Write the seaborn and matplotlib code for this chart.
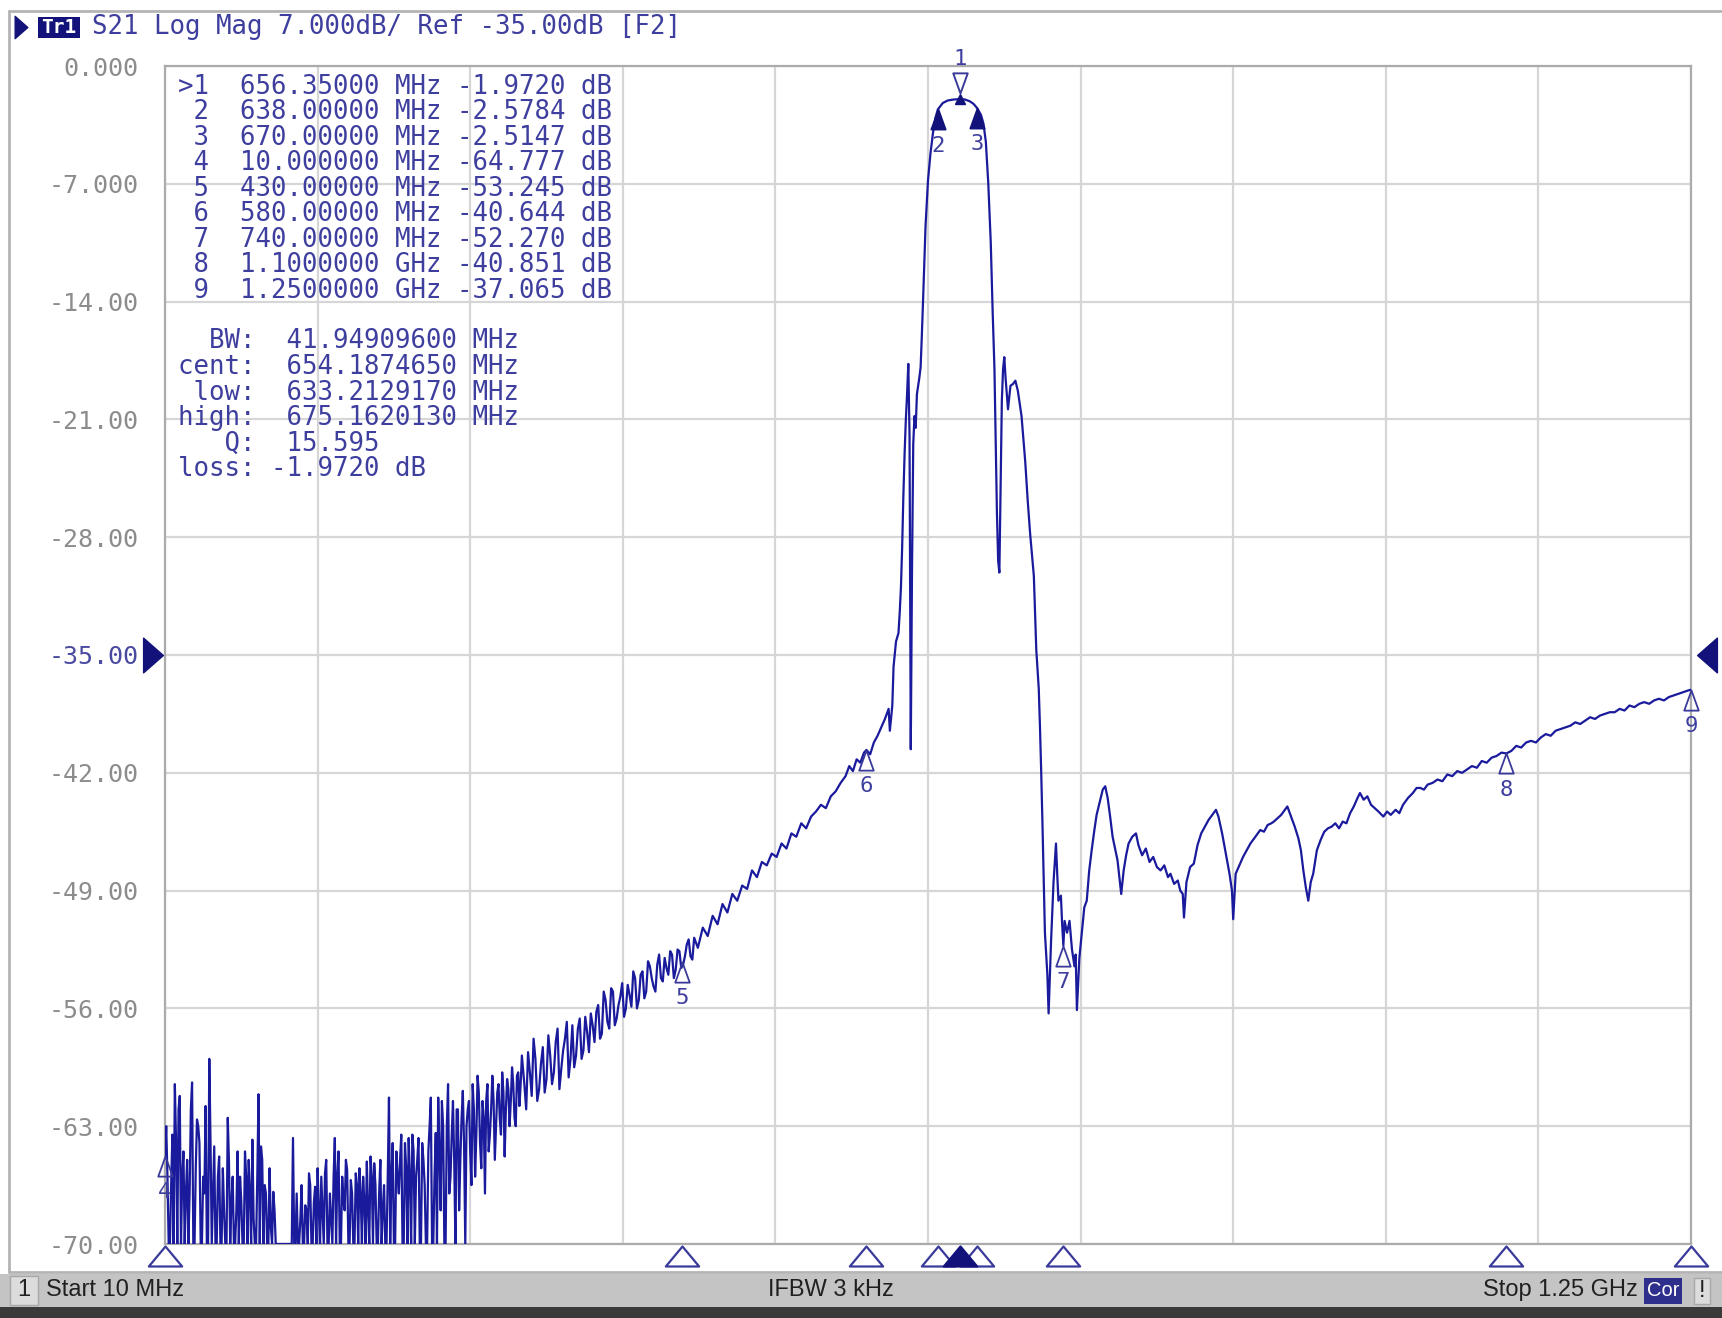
import numpy as np
import pandas as pd
import matplotlib
matplotlib.use("Agg")
import matplotlib.pyplot as plt
import seaborn as sns
from matplotlib.path import Path
from matplotlib.patches import Rectangle
from matplotlib.lines import Line2D
from matplotlib.transforms import blended_transform_factory
from matplotlib import font_manager

# ---------------- data ----------------
# low band 10..300 MHz (noise floor, clipped at -70 dB), even MHz points
low_freq = [10, 12, 14, 16, 18, 20, 22, 24, 26, 28,
            30, 32, 34, 36, 38, 40, 42, 44, 46, 48,
            50, 52, 54, 56, 58, 60, 62, 64, 66, 68,
            70, 72, 74, 76, 78, 80, 82, 84, 86, 88,
            90, 92, 94, 96, 98, 100, 102, 104, 106, 108,
            110, 112, 114, 116, 118, 120, 122, 124, 126, 128,
            130, 132, 134, 136, 138, 140, 142, 144, 146, 148,
            150, 152, 154, 156, 158, 160, 162, 164, 166, 168,
            170, 172, 174, 176, 178, 180, 182, 184, 186, 188,
            190, 192, 194, 196, 198, 200, 202, 204, 206, 208,
            210, 212, 214, 216, 218, 220, 222, 224, 226, 228,
            230, 232, 234, 236, 238, 240, 242, 244, 246, 248,
            250, 252, 254, 256, 258, 260, 262, 264, 266, 268,
            270, 272, 274, 276, 278, 280, 282, 284, 286, 288,
            290, 292, 294, 296, 298, 300]
low_db = [-64.8, -66, -70, -63.5, -60.5, -70, -61.2, -66, -70, -65,
          -67, -60.4, -70, -62.6, -64, -70, -67, -70, -59.0, -70,
          -64.2, -70, -64.8, -70, -68, -70, -65.2, -67.5, -70, -68,
          -70, -67.5, -70, -66, -65.0, -70, -68.5, -70, -61.1, -64.2,
          -70, -67, -70, -69, -66.9, -70, -70, -70, -70, -70,
          -70, -70, -63.7, -70, -70, -68.5, -70, -67.7, -70, -66.5,
          -70, -66.6, -65.5, -70, -68, -65.8, -70, -67, -70, -63.7,
          -66, -70, -66, -68, -65.6, -70, -67, -70, -66.5, -65.5,
          -70, -67.5, -65.1, -70, -66, -65.2, -70, -67, -70, -66.5,
          -70, -61.3, -66, -70, -64.5, -67, -63.5, -70, -65.5, -63.7,
          -70, -64.5, -66, -63.7, -70, -65, -70, -64.5, -61.3, -70,
          -63.4, -61.3, -68, -63.0, -70, -60.5, -66, -61.5, -70, -62,
          -65, -60.9, -70, -62, -64.5, -60.5, -66, -60.0, -64, -61.5,
          -67, -60.5, -63.5, -60.0, -65, -61.0, -62.5, -59.8, -64.8, -60.2,
          -63, -59.5, -62.5, -60.0, -61.8, -58.8]

# low band, odd MHz points
low_freq_odd = [11, 13, 15, 17, 19, 21, 23, 25, 27, 29,
                31, 33, 35, 37, 39, 41, 43, 45, 47, 49,
                51, 53, 55, 57, 59, 61, 63, 65, 67, 69,
                71, 73, 75, 77, 79, 81, 83, 85, 87, 89,
                91, 93, 95, 97, 99, 101, 103, 105, 107, 109,
                111, 113, 115, 117, 119, 121, 123, 125, 127, 129,
                131, 133, 135, 137, 139, 141, 143, 145, 147, 149,
                151, 153, 155, 157, 159, 161, 163, 165, 167, 169,
                171, 173, 175, 177, 179, 181, 183, 185, 187, 189,
                191, 193, 195, 197, 199, 201, 203, 205, 207, 209,
                211, 213, 215, 217, 219, 221, 223, 225, 227, 229,
                231, 233, 235, 237, 239, 241, 243, 245, 247, 249,
                251, 253, 255, 257, 259, 261, 263, 265, 267, 269,
                271, 273, 275, 277, 279, 281, 283, 285, 287, 289,
                291, 293, 295, 297, 299]
low_db_odd = [-63.0, -70, -66.5, -70, -64.0, -62.0, -70, -64.5, -67.0, -70,
              -62.0, -70, -65.5, -63.0, -70, -66.0, -61.8, -70, -64.0, -67.0,
              -70, -66.0, -70, -65.5, -70, -62.5, -70, -66.0, -70, -64.5,
              -66.0, -70, -64.5, -70, -67.0, -63.8, -70, -66.0, -70, -65.0,
              -66.5, -70, -65.5, -70, -68.0, -70, -70, -70, -70, -70,
              -70, -70, -70, -67.0, -70, -66.5, -70, -68.0, -65.8, -70,
              -67.5, -70, -68.0, -66.0, -70, -65.0, -70, -68.5, -66.0, -70,
              -64.5, -70, -67.5, -65.0, -70, -66.2, -70, -65.8, -70, -67.0,
              -66.0, -70, -68.0, -64.8, -70, -66.5, -70, -65.0, -68.0, -70,
              -66.0, -70, -64.0, -70, -66.0, -65.0, -70, -64.0, -70, -66.0,
              -63.5, -70, -65.0, -70, -64.0, -66.5, -70, -63.0, -70, -66.0,
              -70, -64.5, -61.5, -70, -63.0, -67.0, -63.5, -65.0, -62.0, -68.0,
              -62.5, -64.0, -63.0, -61.5, -66.5, -62.0, -63.5, -61.0, -65.5, -62.5,
              -61.5, -64.5, -62.0, -61.5, -63.0, -60.5, -63.5, -61.0, -62.0, -60.8,
              -61.5, -60.5, -63.0, -59.8, -60.5]

# rising lower stopband 302..440 MHz
rise_freq = [302, 305, 308, 311, 314, 317, 320, 323, 326, 329,
             332, 335, 338, 341, 344, 347, 350, 353, 356, 359,
             362, 365, 368, 371, 374, 377, 380, 383, 386, 389,
             392, 395, 398, 401, 404, 407, 410, 413, 416, 419,
             422, 425, 428, 431, 434, 437, 440]
rise_db = [-60.5, -58.6, -61.2, -59.0, -60.8, -58.3, -60.2, -58.8, -59.8, -57.2,
           -59.6, -57.8, -60.1, -57.0, -58.8, -56.6, -58.5, -57.4, -56.3, -58.0,
           -55.8, -57.5, -55.5, -57.2, -55.0, -56.6, -55.3, -56.5, -54.6, -55.9,
           -54.2, -55.5, -53.8, -55.0, -53.5, -54.7, -53.4, -54.2, -53.0, -54.0,
           -52.8, -53.7, -52.6, -53.4, -52.2, -52.9, -51.8]
rise_freq_mid = [303.5, 306.5, 309.5, 312.5, 315.5, 318.5, 321.5, 324.5, 327.5, 330.5,
                 333.5, 336.5, 339.5, 342.5, 345.5, 348.5, 351.5, 354.5, 357.5, 360.5,
                 363.5, 366.5, 369.5, 372.5, 375.5, 378.5, 381.5, 384.5, 387.5, 390.5,
                 393.5, 396.5, 399.5, 402.5, 405.5, 408.5, 411.5, 414.5, 417.5, 420.5,
                 423.5, 426.5, 429.5, 432.5, 435.5, 438.5]
rise_db_mid = [-62.0, -59.8, -57.8, -61.5, -59.3, -61.0, -57.6, -60.5, -58.0, -60.8,
               -58.5, -56.8, -59.0, -59.5, -57.2, -59.0, -56.5, -58.6, -57.0, -56.2,
               -57.8, -55.0, -56.8, -54.8, -57.0, -55.8, -54.5, -56.0, -55.2, -53.8,
               -56.0, -54.0, -55.4, -53.2, -54.2, -55.0, -52.8, -54.4, -53.6, -52.6,
               -54.2, -52.5, -53.6, -52.9, -51.9, -53.1]

# approach to the passband 443..601 MHz
slope_freq = [443, 447, 451, 455, 459, 463, 467, 471, 475, 479,
              483, 487, 491, 495, 499, 503, 507, 511, 515, 519,
              523, 527, 531, 535, 539, 543, 547, 551, 555, 559,
              563, 566, 569, 572, 575, 578, 580, 583, 586, 589,
              592, 595, 598, 599, 601]
slope_db = [-52.4, -51.2, -51.7, -50.5, -51.0, -49.8, -50.3, -49.2, -49.6, -48.7,
            -48.9, -47.8, -48.2, -47.3, -47.5, -46.8, -47.0, -46.2, -46.5, -45.6,
            -45.8, -45.0, -45.3, -44.6, -44.3, -43.9, -44.1, -43.4, -43.1, -42.6,
            -42.2, -41.6, -41.9, -41.2, -41.4, -40.8, -40.64, -40.9, -40.2, -39.8,
            -39.3, -38.8, -38.2, -39.5, -38.0]

# lower skirt 602..626 MHz
lskirt_freq = [602, 604, 606, 607, 608, 609, 610, 611, 612, 613, 614, 615,
               616, 617, 618, 619, 620, 621, 622, 623, 624, 625, 626]
lskirt_db = [-35.7, -34.2, -33.7, -32.5, -31.0, -28.6, -25.5, -23.0, -21.0, -19.5, -17.7, -22.0,
             -40.6, -30.0, -22.5, -20.8, -21.5, -19.5, -19.0, -18.5, -17.9, -16.0, -13.9]

# passband 628..681 MHz
pass_freq = [628, 630, 632, 634, 636, 638, 642, 646, 650, 653,
             656.35, 660, 664, 667, 670, 673, 675, 677, 679, 681]
pass_db = [-9.5, -6.8, -5.2, -4.0, -3.1, -2.58, -2.2, -2.05, -2.0, -1.98,
           -1.972, -1.99, -2.1, -2.25, -2.51, -2.9, -3.4, -4.5, -7.0, -10.5]

# upper skirt and upper stopband 682.5..1027 MHz
upper_freq = [682.5, 684, 685, 686, 687, 688, 689, 690, 691, 692,
              693, 695, 697, 699, 701, 703, 706, 709, 711, 713,
              716, 718, 720, 721, 722, 723, 725, 727, 728, 730,
              732, 734, 735, 736, 738, 739, 740, 741, 743, 745,
              747, 749, 750, 751, 753, 755, 757, 759, 761, 763,
              765, 767, 770, 772, 774, 776, 778, 780, 782, 784,
              786, 787, 789, 791, 793, 796, 799, 801, 804, 807,
              810, 813, 816, 819, 822, 825, 827, 830, 833, 835,
              837, 838, 840, 843, 846, 849, 852, 855, 858, 861,
              864, 866, 869, 872, 875, 877, 878, 880, 883, 886,
              889, 892, 895, 898, 900, 903, 906, 909, 911, 914,
              917, 920, 922, 925, 928, 931, 933, 935, 937, 939,
              941, 943, 946, 949, 952, 955, 958, 961, 964, 967,
              970, 973, 976, 979, 981, 984, 987, 990, 993, 996,
              1000, 1003, 1006, 1010, 1013, 1016, 1020, 1024, 1027]
upper_db = [-14.5, -18.0, -22.2, -26.5, -29.4, -30.1, -25.0, -19.9, -18.0, -17.3,
            -18.5, -20.4, -19.0, -18.9, -18.7, -19.3, -20.8, -23.5, -25.8, -27.8,
            -30.3, -34.7, -37.0, -39.3, -42.0, -45.0, -51.5, -54.0, -56.3, -52.0,
            -48.5, -46.2, -48.0, -49.6, -49.3, -51.0, -52.27, -50.8, -51.5, -50.8,
            -52.5, -53.5, -52.8, -56.1, -53.0, -51.5, -50.0, -49.6, -47.8, -46.6,
            -45.5, -44.5, -43.6, -43.0, -42.8, -43.5, -44.6, -45.8, -46.5, -47.2,
            -48.5, -49.2, -47.8, -46.9, -46.2, -45.8, -45.6, -46.3, -46.9, -46.5,
            -47.3, -47.0, -47.6, -47.8, -47.5, -48.2, -48.0, -48.6, -48.4, -49.0,
            -49.2, -50.6, -48.5, -47.6, -47.4, -46.3, -45.6, -45.2, -44.8, -44.5,
            -44.2, -44.6, -45.6, -46.8, -48.0, -49.0, -50.7, -48.0, -47.5, -47.0,
            -46.6, -46.2, -45.9, -45.6, -45.4, -45.5, -45.1, -45.0, -44.9, -44.7,
            -44.5, -44.2, -44.0, -44.6, -45.2, -45.9, -46.6, -47.8, -48.8, -49.6,
            -48.5, -48.0, -46.6, -46.0, -45.5, -45.3, -45.2, -45.0, -45.3, -44.9,
            -45.0, -44.4, -44.0, -43.5, -43.2, -43.6, -43.4, -43.9, -44.1, -44.3,
            -44.6, -44.3, -44.5, -44.2, -44.4, -43.9, -43.5, -43.2, -42.9]

# high end 1030..1250 MHz
high_freq = [1030, 1033, 1036, 1040, 1044, 1048, 1052, 1056, 1060, 1064,
             1068, 1072, 1076, 1080, 1084, 1088, 1092, 1096, 1100, 1104,
             1108, 1112, 1116, 1120, 1124, 1128, 1132, 1136, 1140, 1144,
             1148, 1152, 1156, 1160, 1164, 1168, 1172, 1176, 1180, 1184,
             1188, 1192, 1196, 1200, 1204, 1208, 1212, 1216, 1220, 1224,
             1228, 1232, 1236, 1240, 1244, 1248, 1250]
high_db = [-42.9, -43.0, -42.7, -42.6, -42.4, -42.5, -42.1, -42.2, -41.9, -42.0,
           -41.8, -41.6, -41.7, -41.3, -41.4, -41.1, -41.0, -40.8, -40.85, -40.7,
           -40.4, -40.5, -40.2, -40.1, -40.2, -39.9, -39.7, -39.8, -39.5, -39.4,
           -39.3, -39.2, -39.0, -39.1, -38.9, -38.7, -38.8, -38.6, -38.5, -38.4,
           -38.4, -38.2, -38.3, -38.0, -38.1, -37.9, -37.8, -37.9, -37.7, -37.6,
           -37.7, -37.5, -37.4, -37.3, -37.2, -37.1, -37.065]

# markers (from the marker table)
marker_ids = ["1", "2", "3", "4", "5", "6", "7", "8", "9"]
marker_freq = [656.35, 638.0, 670.0, 10.0, 430.0, 580.0, 740.0, 1100.0, 1250.0]
marker_db = [-1.972, -2.5784, -2.5147, -64.777, -53.245, -40.644, -52.270, -40.851, -37.065]

table_rows = [">1  656.35000 MHz -1.9720 dB",
              " 2  638.00000 MHz -2.5784 dB",
              " 3  670.00000 MHz -2.5147 dB",
              " 4  10.000000 MHz -64.777 dB",
              " 5  430.00000 MHz -53.245 dB",
              " 6  580.00000 MHz -40.644 dB",
              " 7  740.00000 MHz -52.270 dB",
              " 8  1.1000000 GHz -40.851 dB",
              " 9  1.2500000 GHz -37.065 dB"]
bw_rows = ["  BW:  41.94909600 MHz",
           "cent:  654.1874650 MHz",
           " low:  633.2129170 MHz",
           "high:  675.1620130 MHz",
           "   Q:  15.595",
           "loss: -1.9720 dB"]

y_ticks = [0, -7, -14, -21, -28, -35, -42, -49, -56, -63, -70]
y_labels = ["0.000", "-7.000", "-14.00", "-21.00", "-28.00", "-35.00",
            "-42.00", "-49.00", "-56.00", "-63.00", "-70.00"]
start_mhz, stop_mhz, ref_db = 10, 1250, -35

# ---------------- styling ----------------
sns.set_style("white")
avail = {f.name for f in font_manager.fontManager.ttflist}
MONO = "DejaVu Sans Mono"
NARROW = "Liberation Sans Narrow" if "Liberation Sans Narrow" in avail else "Liberation Sans"
plt.rcParams["font.family"] = ["DejaVu Sans"]

TRACE = "#1a1a9c"
TXT = "#3e3e9e"
NAVY = "#12127a"
GRID = "#d6d6d6"

W, H = 1722, 1318
fig = plt.figure(figsize=(W / 100, H / 100), dpi=100)
fig.patch.set_facecolor("white")

def fx(px):
    return px / W

def fy(py):
    return 1 - py / H

AX_L, AX_R, AX_T, AX_B = 165, 1691, 66, 1244
ax = fig.add_axes([fx(AX_L), fy(AX_B), (AX_R - AX_L) / W, (AX_B - AX_T) / H])
ax.set_facecolor("white")

freq_all = (low_freq + low_freq_odd + rise_freq + rise_freq_mid + slope_freq
            + lskirt_freq + pass_freq + upper_freq + high_freq)
db_all = (low_db + low_db_odd + rise_db + rise_db_mid + slope_db
          + lskirt_db + pass_db + upper_db + high_db)
df = pd.DataFrame({"freq": freq_all, "db": db_all})

sns.lineplot(data=df, x="freq", y="db", ax=ax, sort=True, estimator=None,
             color=TRACE, lw=1.6, zorder=3)

ax.set_xlim(start_mhz, stop_mhz)
ax.set_ylim(-70, 0)
span = stop_mhz - start_mhz
ax.set_xticks([start_mhz + span * k / 10 for k in range(11)])
ax.set_yticks(y_ticks)
ax.set_yticklabels(y_labels, family=MONO, fontsize=18, color="#8c8c8c")
for lab in ax.get_yticklabels():
    if lab.get_text() == "-35.00":
        lab.set_color("#4a4aa0")
ax.tick_params(axis="both", length=0, pad=19, labelbottom=False)
ax.set_xlabel("")
ax.set_ylabel("")
ax.grid(True, color=GRID, lw=1.6)
for s in ax.spines.values():
    s.set_color("#ababab")
    s.set_linewidth(1.6)

# reference-level arrows
tri_r = Path([(-0.57, 1), (0.57, 0), (-0.57, -1), (-0.57, 1)],
             [Path.MOVETO, Path.LINETO, Path.LINETO, Path.CLOSEPOLY])
tri_l = Path([(0.57, 1), (-0.57, 0), (0.57, -1), (0.57, 1)],
             [Path.MOVETO, Path.LINETO, Path.LINETO, Path.CLOSEPOLY])
tr_ax_y = blended_transform_factory(ax.transAxes, ax.transData)
ax.plot([-12 / (AX_R - AX_L)], [ref_db], marker=tri_r, ms=25, color=NAVY,
        transform=tr_ax_y, clip_on=False, zorder=6)
ax.plot([1 + 16 / (AX_R - AX_L)], [ref_db], marker=tri_l, ms=25, color=NAVY,
        transform=tr_ax_y, clip_on=False, zorder=6)

# bottom stimulus triangles
flat_up = Path([(-1, -0.6), (1, -0.6), (0, 0.6), (-1, -0.6)],
               [Path.MOVETO, Path.LINETO, Path.LINETO, Path.CLOSEPOLY])
tr_x_ax = blended_transform_factory(ax.transData, ax.transAxes)
yb = -12 / (AX_B - AX_T)
for i, f in enumerate(marker_freq):
    if i == 0:
        continue
    ax.plot([f], [yb], marker=flat_up, ms=24, mfc="white", mec="#3a3a9a", mew=1.6,
            ls="none", transform=tr_x_ax, clip_on=False, zorder=6)
ax.plot([marker_freq[0]], [yb], marker=flat_up, ms=24, mfc=NAVY, mec=NAVY, mew=1.6,
        ls="none", transform=tr_x_ax, clip_on=False, zorder=7)

# on-trace marker symbols
apex_up = Path([(0, 0), (-0.36, -1), (0.36, -1), (0, 0)],
               [Path.MOVETO, Path.LINETO, Path.LINETO, Path.CLOSEPOLY])
apex_down = Path([(0, 0), (-0.36, 1), (0.36, 1), (0, 0)],
                 [Path.MOVETO, Path.LINETO, Path.LINETO, Path.CLOSEPOLY])
for mid, f, d in zip(marker_ids, marker_freq, marker_db):
    if mid == "1":
        ax.plot([f], [d], marker="^", ms=7, color=NAVY, ls="none", clip_on=False, zorder=7)
        ax.plot([f], [d + 0.35], marker=apex_down, ms=29, mfc="white", mec="#3a3a9a",
                mew=1.4, ls="none", clip_on=False, zorder=7)
        ax.annotate(mid, (f, d), xytext=(0, 29), textcoords="offset points",
                    ha="center", va="center", family=MONO, fontsize=16, color=TXT,
                    annotation_clip=False)
    elif mid in ("2", "3"):
        ax.plot([f], [d], marker=apex_up, ms=29, mfc=NAVY, mec=NAVY, mew=1.2,
                ls="none", clip_on=False, zorder=7)
        ax.annotate(mid, (f, d), xytext=(0, -26), textcoords="offset points",
                    ha="center", va="center", family=MONO, fontsize=16, color=TXT,
                    annotation_clip=False)
    else:
        ax.plot([f], [d], marker=apex_up, ms=29, mfc="none", mec="#3a3a9a", mew=1.3,
                ls="none", clip_on=False, zorder=7)
        ax.annotate(mid, (f, d), xytext=(0, -26), textcoords="offset points",
                    ha="center", va="center", family=MONO, fontsize=16, color=TXT,
                    annotation_clip=False)

# marker table text
for i, row in enumerate(table_rows):
    fig.text(fx(178), fy(86.7 + 25.5 * i), row, ha="left", va="center",
             family=MONO, fontsize=18.5, color=TXT, zorder=8)
for i, row in enumerate(bw_rows):
    fig.text(fx(178), fy(341.5 + 25.5 * i), row, ha="left", va="center",
             family=MONO, fontsize=18.5, color=TXT, zorder=8)

# header and frame
fig.add_artist(Line2D([fx(9), fx(W)], [fy(11), fy(11)], color="#b4b4b4", lw=2))
fig.add_artist(Line2D([fx(9), fx(9)], [fy(11), fy(1272)], color="#b4b4b4", lw=2))
fig.add_artist(Line2D([fx(9), fx(W)], [fy(1272), fy(1272)], color="#b4b4b4", lw=2))
fig.add_artist(Line2D([fx(21)], [fy(27)], marker=tri_r, ms=16, color=NAVY, ls="none"))
fig.add_artist(Rectangle((fx(38), fy(38)), (80 - 38) / W, (38 - 17) / H,
                         transform=fig.transFigure, facecolor=NAVY, edgecolor="none"))
fig.text(fx(59), fy(27.5), "Tr1", ha="center", va="center", family=MONO,
         fontsize=14, fontweight="bold", color="white")
fig.text(fx(91.5), fy(26.5), "S21 Log Mag 7.000dB/ Ref -35.00dB [F2]", ha="left",
         va="center", family=MONO, fontsize=18.5, color=TXT)

# status bar
fig.add_artist(Rectangle((0, fy(1307)), 1, (1307 - 1274) / H, transform=fig.transFigure,
                         facecolor="#c4c4c4", edgecolor="none"))
fig.add_artist(Rectangle((fx(10), fy(1305)), 28 / W, 29 / H, transform=fig.transFigure,
                         facecolor="#dcdcdc", edgecolor="#a8a8a8", lw=1))
fig.add_artist(Rectangle((0, 0), 1, (H - 1307) / H, transform=fig.transFigure,
                         facecolor="#3a3a3a", edgecolor="none"))
fig.text(fx(24), fy(1290), "1", ha="center", va="center", family=NARROW,
         fontsize=17, color="#202020")
fig.text(fx(46), fy(1290), "Start 10 MHz", ha="left", va="center", family=NARROW,
         fontsize=17, color="#202020")
fig.text(fx(831), fy(1290), "IFBW 3 kHz", ha="center", va="center", family=NARROW,
         fontsize=17, color="#202020")
fig.text(fx(1638), fy(1290), "Stop 1.25 GHz", ha="right", va="center", family=NARROW,
         fontsize=17, color="#202020")
fig.add_artist(Rectangle((fx(1644), fy(1304)), 38 / W, 26 / H, transform=fig.transFigure,
                         facecolor="#2e2e8c", edgecolor="none"))
fig.text(fx(1663), fy(1291), "Cor", ha="center", va="center", family=NARROW,
         fontsize=14.5, color="white")
fig.add_artist(Rectangle((fx(1694), fy(1304)), 16 / W, 26 / H, transform=fig.transFigure,
                         facecolor="#dcdcdc", edgecolor="#a8a8a8", lw=1))
fig.text(fx(1702), fy(1291), "!", ha="center", va="center", family=NARROW,
         fontsize=17, color="#202020")

fig.savefig("out.png", dpi=100, facecolor="white")
